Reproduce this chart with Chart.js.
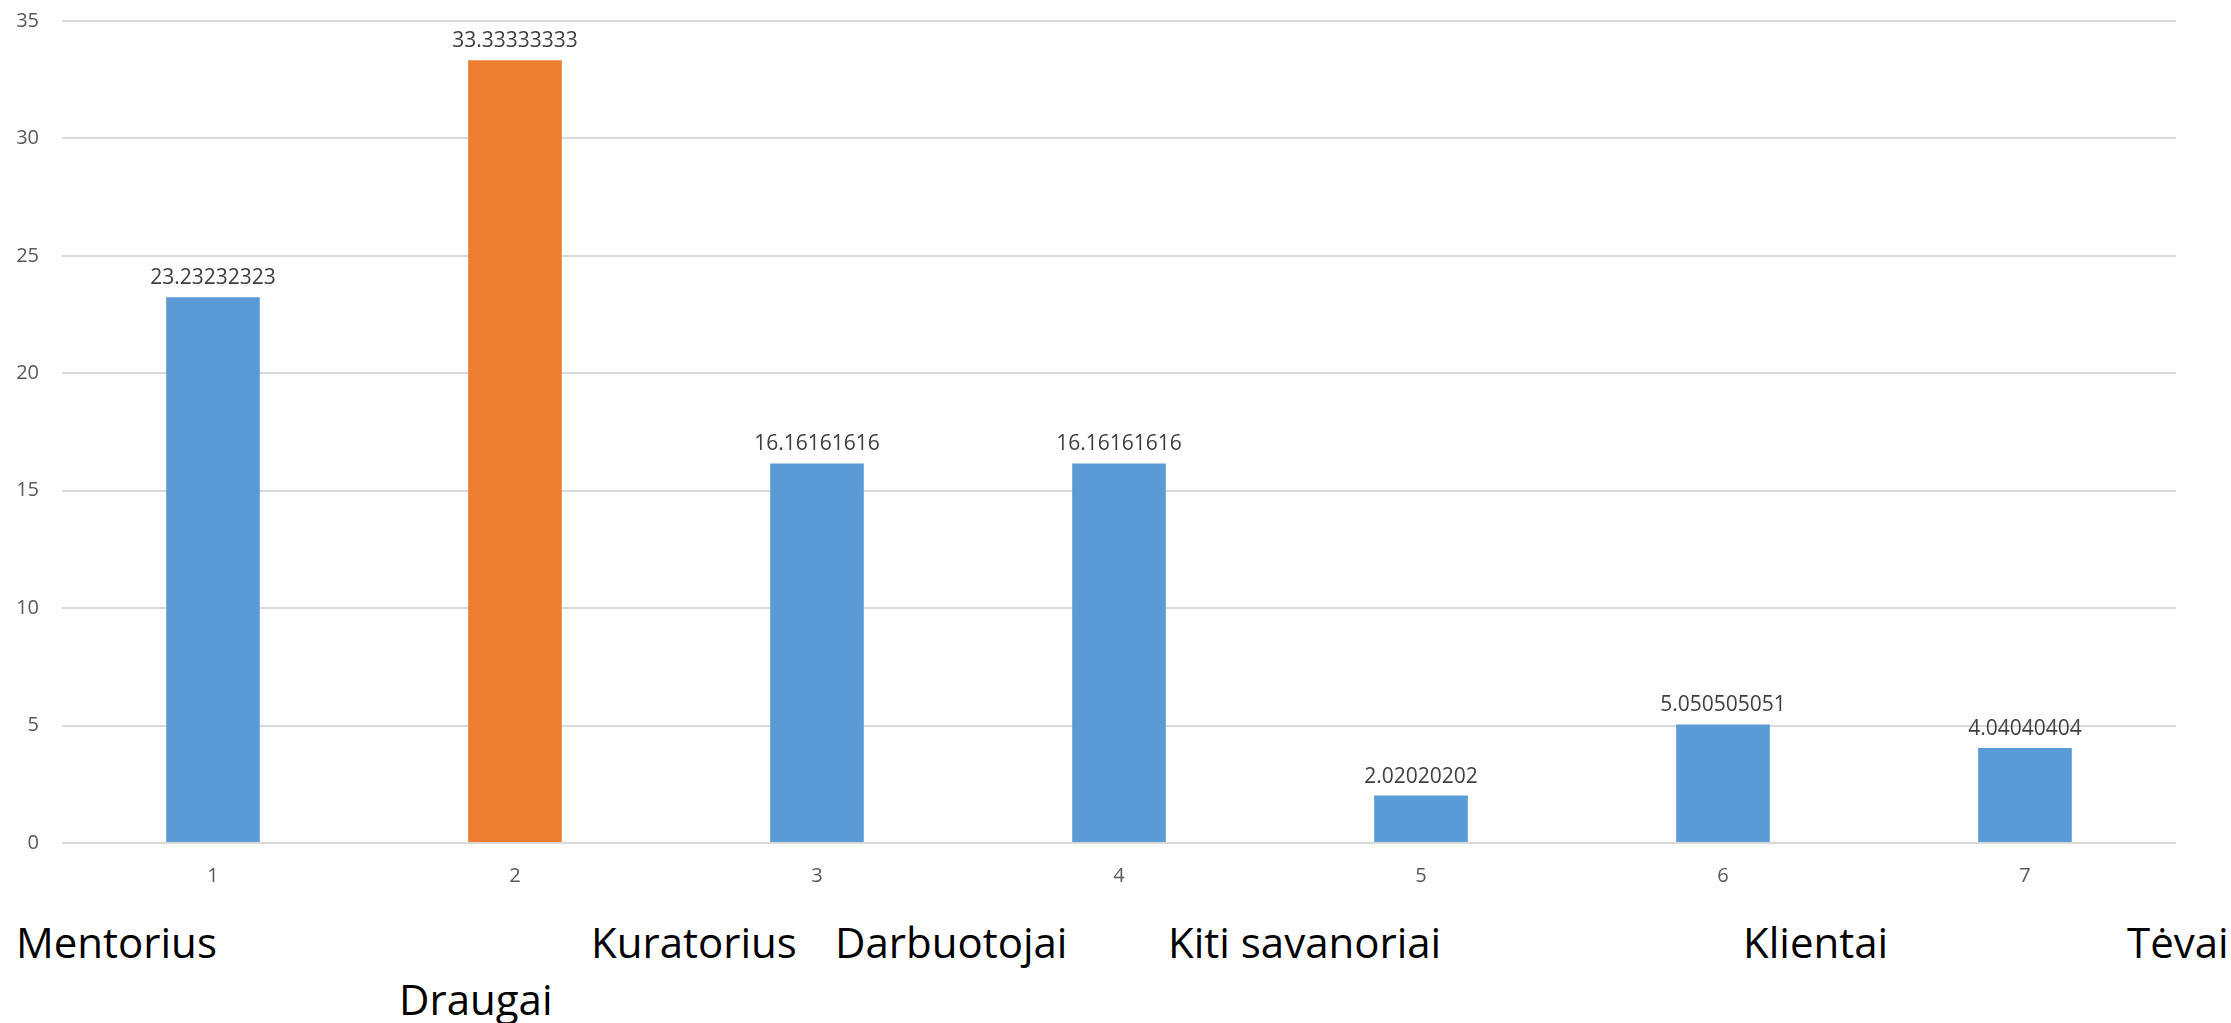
<!DOCTYPE html>
<html lang="lt">
<head>
    <meta charset="UTF-8">
    <title>Diagrama</title>
    <script src="https://cdn.jsdelivr.net/npm/chart.js"></script>
    <style>
        body { margin: 0; background: #fff; }
        #wrap { position: relative; width: 2231px; height: 1023px; overflow: hidden; }
        #box { position: absolute; left: 0; top: 0; width: 2231px; height: 900px; }
        .vardas { position: absolute; font-family: "Open Sans", sans-serif; font-size: 42px; line-height: 42px; color: #000; white-space: nowrap; }
    </style>
</head>
<body>
<div id="wrap">
    <div id="box"><canvas id="myChart"></canvas></div>
</div>
<script>
    // duomenys
    const kategorijos = ['1', '2', '3', '4', '5', '6', '7'];
    const reiksmes = [23.23232323, 33.33333333, 16.16161616, 16.16161616, 2.02020202, 5.050505051, 4.04040404];
    const spalvos = ['#5B9BD5', '#ED7D31', '#5B9BD5', '#5B9BD5', '#5B9BD5', '#5B9BD5', '#5B9BD5'];
    const yTikai = [0, 5, 10, 15, 20, 25, 30, 35];
    const vardai = ['Mentorius', 'Draugai', 'Kuratorius', 'Darbuotojai', 'Kiti savanoriai', 'Klientai', 'Tėvai'];

    // kur stovi užrašai po grafiku (kaip skaidrėje)
    const vardaiVieta = [[16, 921], [399, 978], [591, 921], [835, 921], [1168, 921], [1743, 921], [2127, 921]];

    const wrap = document.getElementById('wrap');
    vardai.forEach(function (v, i) {
        const d = document.createElement('div');
        d.className = 'vardas';
        d.textContent = v;
        d.style.left = vardaiVieta[i][0] + 'px';
        d.style.top = vardaiVieta[i][1] + 'px';
        wrap.appendChild(d);
    });

    // reikšmės virš stulpelių
    const virsusPlugin = {
        id: 'virsus',
        afterDatasetsDraw(chart) {
            const ctx = chart.ctx;
            const meta = chart.getDatasetMeta(0);
            ctx.save();
            ctx.font = '21px "Open Sans"';
            ctx.fillStyle = '#404040';
            ctx.textAlign = 'center';
            ctx.textBaseline = 'alphabetic';
            meta.data.forEach(function (bar, i) {
                ctx.fillText(String(reiksmes[i]), bar.x, bar.y - 13);
            });
            ctx.restore();
        }
    };

    const ctx = document.getElementById('myChart').getContext('2d');
    const myChart = new Chart(ctx, {
        type: 'bar',
        data: {
            labels: kategorijos,
            datasets: [{
                data: reiksmes,
                backgroundColor: spalvos,
                borderWidth: 0,
                categoryPercentage: 1,
                barPercentage: 0.31
            }]
        },
        options: {
            responsive: true,
            maintainAspectRatio: false,
            animation: false,
            layout: { padding: { top: 21, right: 55, left: 0, bottom: 0 } },
            plugins: {
                legend: { display: false },
                tooltip: { enabled: false }
            },
            scales: {
                x: {
                    grid: { display: false },
                    border: { display: false },
                    ticks: { color: '#595959', font: { family: 'Open Sans', size: 20 }, padding: 13 },
                    afterFit(scale) { scale.height = 57; }
                },
                y: {
                    min: 0,
                    max: 35,
                    afterBuildTicks(scale) { scale.ticks = yTikai.map(v => ({ value: v })); },
                    grid: { color: '#d9d9d9', lineWidth: 2, drawTicks: false },
                    border: { display: false },
                    ticks: { color: '#595959', font: { family: 'Open Sans', size: 20 }, padding: 23 },
                    afterFit(scale) {
                        scale.width = 62;
                        scale.paddingTop = 0;
                        scale.paddingBottom = 0;
                    }
                }
            }
        },
        plugins: [virsusPlugin]
    });
</script>
</body>
</html>
